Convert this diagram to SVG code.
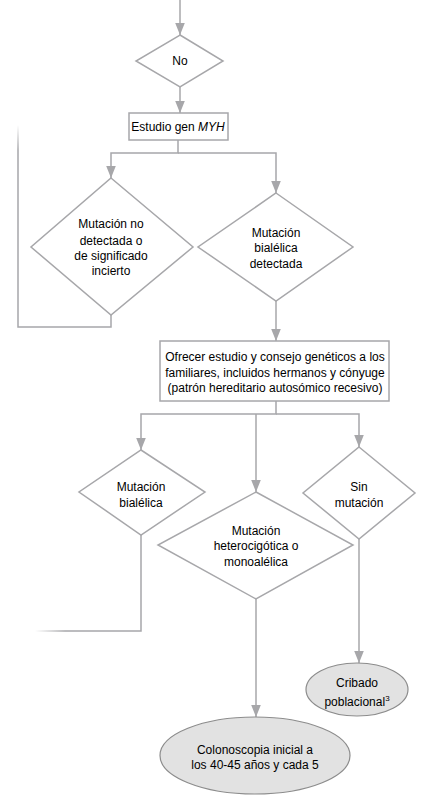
<svg xmlns="http://www.w3.org/2000/svg" width="441" height="812" viewBox="0 0 441 812">
<defs>
<style>
.ln{fill:none;stroke:#a7a7aa;stroke-width:1.5}
.sh{fill:#fff;stroke:#a7a7aa;stroke-width:1.5}
.ov{fill:#e2e2e2;stroke:#8c8c8c;stroke-width:1.2}
text{font-family:"Liberation Sans",Arial,sans-serif;font-size:12px;fill:#000;text-anchor:middle}
</style>
<marker id="ah" markerUnits="userSpaceOnUse" markerWidth="12" markerHeight="15" viewBox="0 0 15 12" refX="15" refY="6" orient="auto">
<path d="M0,0 L15,6 L0,12 Z" fill="#a7a7aa"/>
</marker>
<linearGradient id="fv" gradientUnits="userSpaceOnUse" x1="0" y1="125" x2="0" y2="150">
<stop offset="0" stop-color="#a7a7aa" stop-opacity="0"/>
<stop offset="1" stop-color="#a7a7aa" stop-opacity="1"/>
</linearGradient>
<linearGradient id="fh" gradientUnits="userSpaceOnUse" x1="35" y1="0" x2="65" y2="0">
<stop offset="0" stop-color="#a7a7aa" stop-opacity="0"/>
<stop offset="1" stop-color="#a7a7aa" stop-opacity="1"/>
</linearGradient>
</defs>
<rect width="441" height="812" fill="#fff"/>
<g id="connectors">
<path class="ln" d="M180,0 V35" marker-end="url(#ah)"/>
<path class="ln" d="M180,87 V113" marker-end="url(#ah)"/>
<path class="ln" d="M178,140 V153 H111 V178" marker-end="url(#ah)"/>
<path class="ln" d="M178,153 H276 V193" marker-end="url(#ah)"/>
<path class="ln" d="M111,315 V327 H18 V150"/>
<path d="M18,150 V125" fill="none" stroke="url(#fv)" stroke-width="1.5"/>
<path class="ln" d="M276,301 V341" marker-end="url(#ah)"/>
<path class="ln" d="M276,401 V414 H141 V450" marker-end="url(#ah)"/>
<path class="ln" d="M276,414 H359 V447" marker-end="url(#ah)"/>
<path class="ln" d="M256,414 V492" marker-end="url(#ah)"/>
<path class="ln" d="M141,535 V631 H65"/>
<path d="M65,631 H35" fill="none" stroke="url(#fh)" stroke-width="1.5"/>
<path class="ln" d="M256,599 V717" marker-end="url(#ah)"/>
<path class="ln" d="M359,539 V663" marker-end="url(#ah)"/>
</g>
<g id="n-no">
<polygon class="sh" points="180,35 223,61 180,87 136,61"/>
<text x="180" y="65">No</text>
</g>
<g id="n-estudio">
<rect class="sh" x="129" y="113" width="99" height="27"/>
<text x="178" y="131">Estudio gen <tspan font-style="italic">MYH</tspan></text>
</g>
<g id="n-nodetectada">
<polygon class="sh" points="111,178 193,247 111,315 31,247"/>
<text x="111" y="228">Mutación no</text>
<text x="111" y="245">detectada o</text>
<text x="111" y="260">de significado</text>
<text x="111" y="275">incierto</text>
</g>
<g id="n-bialelica-det">
<polygon class="sh" points="276,193 353,247 276,301 198,247"/>
<text x="276" y="237">Mutación</text>
<text x="276" y="252">bialélica</text>
<text x="276" y="268">detectada</text>
</g>
<g id="n-ofrecer">
<rect class="sh" x="160" y="341" width="229" height="60"/>
<text x="275" y="361">Ofrecer estudio y consejo genéticos a los</text>
<text x="275" y="377">familiares, incluidos hermanos y cónyuge</text>
<text x="275" y="392">(patrón hereditario autosómico recesivo)</text>
</g>
<g id="n-bialelica">
<polygon class="sh" points="141,450 205,492 141,535 79,492"/>
<text x="141" y="491">Mutación</text>
<text x="141" y="507">bialélica</text>
</g>
<g id="n-sin">
<polygon class="sh" points="359,447 415,493 359,539 303,493"/>
<text x="359" y="491">Sin</text>
<text x="359" y="507">mutación</text>
</g>
<g id="n-hetero">
<polygon class="sh" points="256,492 353,545 256,599 158,545"/>
<text x="256" y="535">Mutación</text>
<text x="256" y="550">heterocigótica o</text>
<text x="256" y="566">monoalélica</text>
</g>
<g id="n-cribado">
<ellipse class="ov" cx="357" cy="689.5" rx="51" ry="26.5"/>
<text x="357" y="687">Cribado</text>
<text x="357" y="706">poblacional<tspan font-size="8" dy="-5">3</tspan></text>
</g>
<g id="n-colono">
<ellipse class="ov" cx="255" cy="755.5" rx="95" ry="38.5"/>
<text x="255" y="754">Colonoscopia inicial a</text>
<text x="255" y="769">los 40-45 años y cada 5</text>
</g>
</svg>
